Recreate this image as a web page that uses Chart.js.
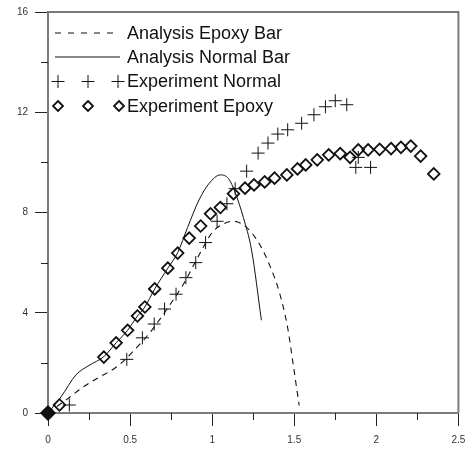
<!DOCTYPE html>
<html lang="en">
<head>
    <meta charset="UTF-8">
    <title>Load - displacement</title>
    <script src="https://cdn.jsdelivr.net/npm/chart.js"></script>
    <style>
      html, body { margin: 0; padding: 0; background: #fff; }
      #wrap { width: 467px; height: 450px; }
    </style>
</head>
<body>
<div id="wrap"><canvas id="chart"></canvas></div>
<script>
    // analysis curves
    const epoxyBarX = [0, 0.13, 0.21, 0.31, 0.42, 0.51, 0.62, 0.72, 0.83, 0.92, 1.0, 1.07, 1.13, 1.18, 1.24, 1.30, 1.35, 1.41, 1.46, 1.49, 1.53];
    const epoxyBarY = [0, 0.62, 1.02, 1.42, 1.85, 2.4, 3.2, 4.1, 5.2, 6.3, 7.2, 7.55, 7.65, 7.55, 7.2, 6.6, 5.9, 4.8, 3.4, 2.1, 0.3];
    const normalBarX = [0, 0.08, 0.17, 0.25, 0.34, 0.415, 0.485, 0.545, 0.59, 0.65, 0.73, 0.79, 0.85, 0.92, 0.98, 1.05, 1.10, 1.14, 1.19, 1.24, 1.30];
    const normalBarY = [0, 0.65, 1.52, 1.9, 2.25, 2.8, 3.3, 3.87, 4.23, 4.95, 5.78, 6.4, 7.4, 8.5, 9.15, 9.5, 9.35, 8.8, 7.8, 6.5, 3.7];

    // experiments
    const expNormalX = [0, 0.13, 0.48, 0.575, 0.647, 0.71, 0.78, 0.84, 0.90, 0.96, 1.03, 1.09, 1.14, 1.21, 1.28, 1.34, 1.40, 1.46, 1.545, 1.62, 1.69, 1.75, 1.82, 1.875, 1.89, 1.965];
    const expNormalY = [0, 0.32, 2.14, 3.0, 3.55, 4.15, 4.74, 5.4, 6.0, 6.8, 7.65, 8.35, 8.95, 9.65, 10.37, 10.77, 11.13, 11.3, 11.56, 11.9, 12.22, 12.46, 12.3, 9.8, 10.2, 9.8];
    const expEpoxyX = [0, 0.07, 0.34, 0.415, 0.485, 0.545, 0.59, 0.65, 0.73, 0.79, 0.86, 0.93, 0.99, 1.05, 1.13, 1.20, 1.255, 1.32, 1.38, 1.455, 1.52, 1.57, 1.64, 1.71, 1.78, 1.84, 1.89, 1.95, 2.02, 2.09, 2.15, 2.21, 2.27, 2.35];
    const expEpoxyY = [0, 0.32, 2.23, 2.8, 3.3, 3.87, 4.23, 4.95, 5.78, 6.38, 6.98, 7.46, 7.95, 8.2, 8.75, 8.97, 9.1, 9.22, 9.37, 9.5, 9.74, 9.9, 10.1, 10.3, 10.35, 10.2, 10.5, 10.5, 10.52, 10.55, 10.6, 10.65, 10.25, 9.54];

    const xTicks = [0, 0.5, 1, 1.5, 2, 2.5];
    const yTicks = [0, 4, 8, 12, 16];
    const xMinorTicks = [0.25, 0.75, 1.25, 1.75, 2.25];
    const yMinorTicks = [2, 6, 10, 14];
    const legendLabels = ['Analysis Epoxy Bar', 'Analysis Normal Bar', 'Experiment Normal', 'Experiment Epoxy'];

    const ink = '#111';
    const frameColor = '#7a7a7a';
    const font = "'Liberation Sans', Arial, sans-serif";

    function pts(xs, ys) {
      return xs.map((x, i) => ({ x: x, y: ys[i] }));
    }

    const framePlugin = {
      id: 'frame',
      afterDraw(chart) {
        const ctx = chart.ctx;
        const a = chart.chartArea;
        const xs = chart.scales.x, ys = chart.scales.y;
        ctx.save();
        // top + right frame
        ctx.strokeStyle = frameColor;
        ctx.lineWidth = 2;
        ctx.beginPath();
        ctx.moveTo(a.left, a.top);
        ctx.lineTo(a.right, a.top);
        ctx.lineTo(a.right, a.bottom);
        ctx.stroke();
        // minor ticks
        ctx.strokeStyle = '#222';
        ctx.lineWidth = 1;
        ctx.beginPath();
        xMinorTicks.forEach(v => {
          const px = Math.round(xs.getPixelForValue(v)) + 0.5;
          ctx.moveTo(px, a.bottom);
          ctx.lineTo(px, a.bottom + 7);
        });
        yMinorTicks.forEach(v => {
          const py = Math.round(ys.getPixelForValue(v)) + 0.5;
          ctx.moveTo(a.left - 7, py);
          ctx.lineTo(a.left, py);
        });
        ctx.stroke();

        // legend
        const lx = a.left + 7, tx = a.left + 79;
        const rows = [a.top + 21, a.top + 45, a.top + 69.5, a.top + 94];
        ctx.strokeStyle = ink;
        ctx.lineWidth = 1.2;
        ctx.setLineDash([6, 7]);
        ctx.beginPath();
        ctx.moveTo(lx, rows[0]);
        ctx.lineTo(lx + 62, rows[0]);
        ctx.stroke();
        ctx.setLineDash([]);
        ctx.lineWidth = 1;
        ctx.beginPath();
        ctx.moveTo(lx, rows[1]);
        ctx.lineTo(lx + 65, rows[1]);
        ctx.stroke();
        [3, 33, 63].forEach(dx => {
          const cx = lx + dx;
          ctx.beginPath();
          ctx.moveTo(cx - 6.5, rows[2]);
          ctx.lineTo(cx + 6.5, rows[2]);
          ctx.moveTo(cx, rows[2] - 6.5);
          ctx.lineTo(cx, rows[2] + 6.5);
          ctx.stroke();
        });
        ctx.lineWidth = 1.8;
        [3, 33, 64].forEach(dx => {
          const cx = lx + dx;
          ctx.beginPath();
          ctx.moveTo(cx, rows[3] - 5);
          ctx.lineTo(cx + 5, rows[3]);
          ctx.lineTo(cx, rows[3] + 5);
          ctx.lineTo(cx - 5, rows[3]);
          ctx.closePath();
          ctx.stroke();
        });
        ctx.fillStyle = ink;
        ctx.font = '18px ' + font;
        ctx.textBaseline = 'middle';
        legendLabels.forEach((t, i) => ctx.fillText(t, tx, rows[i] + 1));
        ctx.restore();
      }
    };

    new Chart(document.getElementById('chart').getContext('2d'), {
      type: 'scatter',
      data: {
        datasets: [
          {
            label: legendLabels[0],
            type: 'line',
            data: pts(epoxyBarX, epoxyBarY),
            borderColor: ink,
            borderWidth: 1.1,
            borderDash: [6, 5],
            pointRadius: 0,
            cubicInterpolationMode: 'monotone',
            fill: false
          },
          {
            label: legendLabels[1],
            type: 'line',
            data: pts(normalBarX, normalBarY),
            borderColor: ink,
            borderWidth: 1,
            pointRadius: 0,
            cubicInterpolationMode: 'monotone',
            fill: false
          },
          {
            label: legendLabels[3],
            data: pts(expEpoxyX, expEpoxyY),
            pointStyle: 'rectRot',
            pointRadius: c => c.dataIndex === 0 ? 6.8 : 5.8,
            borderColor: ink,
            borderWidth: 1.8,
            backgroundColor: c => c.dataIndex === 0 ? ink : 'rgba(0,0,0,0)',
            clip: false
          },
          {
            label: legendLabels[2],
            data: pts(expNormalX, expNormalY),
            pointStyle: 'cross',
            pointRadius: 6.5,
            borderColor: c => c.dataIndex === 0 ? '#777' : ink,
            borderWidth: 1,
            clip: false
          }
        ]
      },
      options: {
        responsive: true,
        maintainAspectRatio: false,
        animation: false,
        layout: { padding: { top: 12, right: 7, left: 0, bottom: 0 } },
        plugins: {
          legend: { display: false },
          tooltip: { enabled: false }
        },
        scales: {
          x: {
            type: 'linear',
            min: 0,
            max: 2.5,
            afterBuildTicks: s => { s.ticks = xTicks.map(v => ({ value: v })); },
            afterFit: s => { s.height = 37; s.paddingLeft = 0; s.paddingRight = 0; },
            ticks: {
              color: '#333',
              padding: 8,
              maxRotation: 0,
              font: { family: font, size: 10 },
              callback: v => String(v)
            },
            grid: { drawOnChartArea: false, tickLength: 13, tickColor: '#222', tickWidth: 1 },
            border: { display: true, color: frameColor, width: 2 }
          },
          y: {
            type: 'linear',
            min: 0,
            max: 16,
            afterBuildTicks: s => { s.ticks = yTicks.map(v => ({ value: v })); },
            afterFit: s => { s.width = 48; s.paddingTop = 0; s.paddingBottom = 0; },
            ticks: {
              color: '#333',
              padding: 7,
              font: { family: font, size: 10 },
              callback: v => String(v)
            },
            grid: { drawOnChartArea: false, tickLength: 13, tickColor: '#222', tickWidth: 1 },
            border: { display: true, color: frameColor, width: 2 }
          }
        }
      },
      plugins: [framePlugin]
    });
</script>
</body>
</html>
